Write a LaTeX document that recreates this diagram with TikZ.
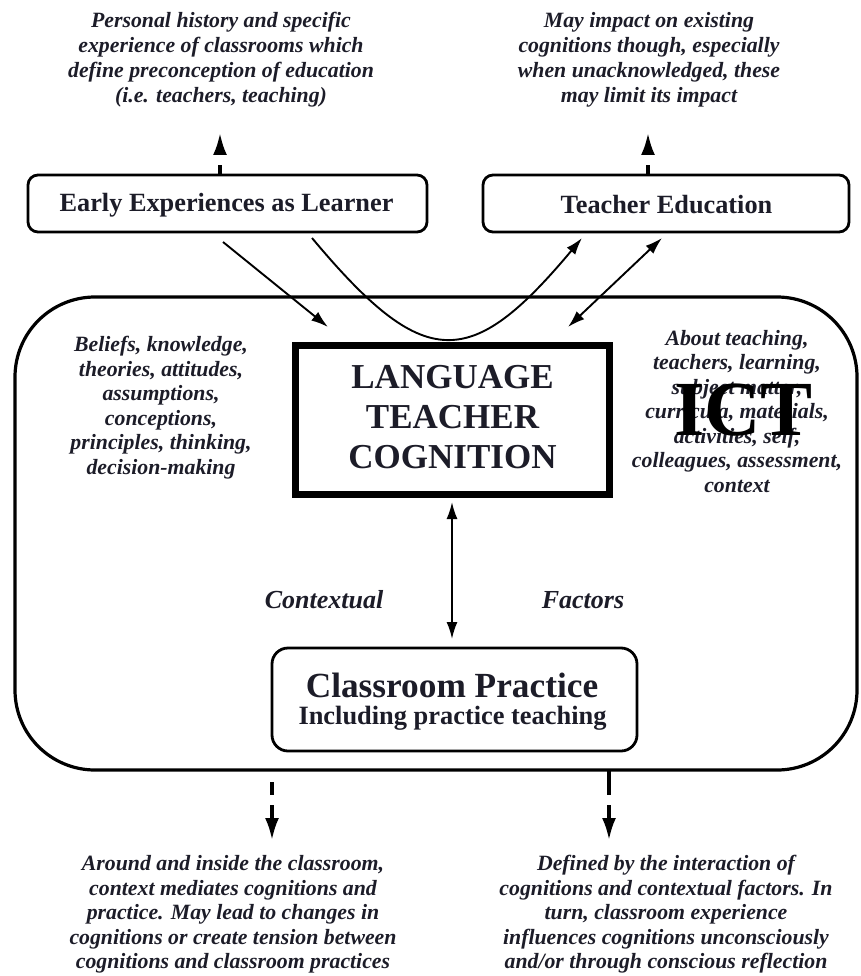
\documentclass[tikz,border=0pt]{standalone}
\usepackage{fontspec}
\setmainfont{Liberation Serif}
\usetikzlibrary{arrows.meta}
\definecolor{ink}{HTML}{1C1C28}
\tikzset{
  note/.style={font=\fontsize{21.8}{25}\selectfont\bfseries\itshape, align=center, text=ink, inner sep=0pt},
  sidenote/.style={font=\fontsize{21.8}{24.5}\selectfont\bfseries\itshape, align=center, text=ink, inner sep=0pt},
  boxlabel/.style={font=\fontsize{26.3}{30}\selectfont\bfseries, text=ink, inner sep=0pt},
  topbox/.style={draw, line width=2.8pt, rounded corners=10pt},
  tip/.style={Latex[length=17pt,width=11pt]},
  arr/.style={line width=1.9pt, -{Latex[length=17pt,width=11pt]}},
  darr/.style={line width=1.9pt, {Latex[length=17pt,width=11pt]}-{Latex[length=17pt,width=11pt]}},
  dasharr/.style={line width=3.2pt, -{Latex[length=22pt,width=14pt]}},
}
\begin{document}
\begin{tikzpicture}[x=1pt,y=-1pt]
\useasboundingbox (0,0) rectangle (860,976);
% top notes
\node[note] (n1) at (221,59.5) {Personal history and specific\\experience of classrooms which\\define preconception of education\\(i.e. teachers, teaching)};
\node[note] (n2) at (649,59.5) {May impact on existing\\cognitions though, especially\\when unacknowledged, these\\may limit its impact};
% top boxes
\draw[topbox] (28,175) rectangle (427,232);
\node[boxlabel] (early) at (226.5,205) {Early Experiences as Learner};
\draw[topbox] (483,175) rectangle (849,232);
\node[boxlabel] (ted) at (666.5,205) {Teacher Education};
\coordinate (eTop) at (220,175);
\coordinate (eUp) at (220,133);
\coordinate (tTop) at (648,175);
\coordinate (tUp) at (648,133);
\draw[dasharr, dash pattern=on 10pt off 10pt] (eTop) -- (eUp);
\draw[dasharr, dash pattern=on 10pt off 10pt] (tTop) -- (tUp);
% big container
\draw[line width=3.2pt, rounded corners=80pt] (15,297) rectangle (857,770);
% LTC
\draw[line width=7pt] (295.5,345.5) rectangle (609.5,494);
\node[font=\fontsize{35}{40}\selectfont\bfseries, align=center, text=ink, inner sep=0pt] (ltc) at (452.5,417) {LANGUAGE\\TEACHER\\COGNITION};
% side notes
\node[sidenote] (ln) at (161,407.5) {Beliefs, knowledge,\\theories, attitudes,\\assumptions,\\conceptions,\\principles, thinking,\\decision-making};
\node[sidenote] (rn) at (737,411.5) {About teaching,\\teachers, learning,\\subject matter,\\curricula, materials,\\activities, self,\\colleagues, assessment,\\context};
\node[font=\fontsize{78}{78}\selectfont\bfseries, text=black, inner sep=0pt, anchor=base] (ict) at (743.5,435) {ICT};
% connectors from top
\coordinate (e1) at (223,242);
\coordinate (e1t) at (328,327);
\draw[arr] (e1) -- (e1t);
\coordinate (c0) at (312,238);
\coordinate (c1) at (582,238);
\draw[arr] (c0) .. controls (424,372) and (470,372) .. (c1);
\coordinate (d0) at (662,238);
\coordinate (d1) at (568,327);
\draw[darr] (d0) -- (d1);
% classroom practice
\draw[line width=2.8pt, rounded corners=16pt] (272,648) rectangle (637,751);
\node[boxlabel, font=\fontsize{35.3}{38}\selectfont\bfseries] (cp1) at (452,685) {Classroom Practice};
\node[boxlabel, font=\fontsize{26.4}{30}\selectfont\bfseries] (cp2) at (452.5,718) {Including practice teaching};
\coordinate (lv1) at (452,502);
\coordinate (lv2) at (452,639);
\draw[darr] (lv1) -- (lv2);
\node[sidenote, font=\fontsize{26}{30}\selectfont\bfseries\itshape] (ctx) at (324,600) {Contextual};
\node[sidenote, font=\fontsize{26}{30}\selectfont\bfseries\itshape] (fac) at (583,600) {Factors};
% bottom dashed arrows
\coordinate (b1) at (272,782);
\coordinate (b1e) at (272,840);
\coordinate (b2) at (609,771);
\coordinate (b2e) at (609,840);
\draw[dasharr, dash pattern=on 13pt off 10pt] (b1) -- (b1e);
\draw[dasharr, dash pattern=on 24pt off 10pt on 13pt off 10pt] (b2) -- (b2e);
\node[sidenote] (bn1) at (233,914.5) {Around and inside the classroom,\\context mediates cognitions and\\practice. May lead to changes in\\cognitions or create tension between\\cognitions and classroom practices};
\node[sidenote] (bn2) at (666,914.5) {Defined by the interaction of\\cognitions and contextual factors. In\\turn, classroom experience\\influences cognitions unconsciously\\and/or through conscious reflection};
\end{tikzpicture}
\end{document}
